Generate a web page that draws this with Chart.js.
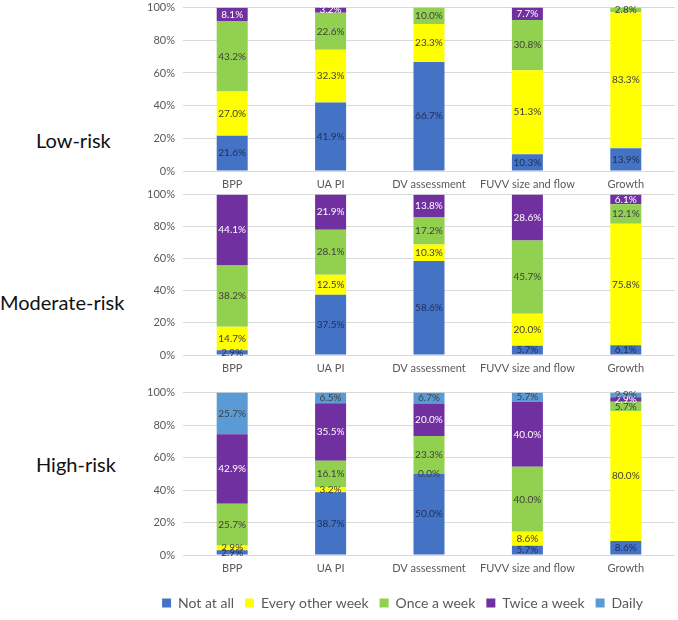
<!DOCTYPE html>
<html>
<head>
<meta charset="utf-8">
<script src="https://cdn.jsdelivr.net/npm/chart.js@4/dist/chart.umd.min.js"></script>
<style>
  body { margin: 0; width: 678px; height: 620px; background: #fff; position: relative; overflow: hidden; font-family: Lato, sans-serif; }
  canvas { position: absolute; }
  .row { position: absolute; font-size: 20px; color: #111; white-space: nowrap; }
</style>
</head>
<body>
<div class="row" style="left:36px; top:128px;">Low-risk</div>
<div class="row" style="left:0px; top:290px;">Moderate-risk</div>
<div class="row" style="left:36px; top:452px;">High-risk</div>
<canvas id="low" width="548" height="202" style="left:130px; top:-7px;"></canvas>
<canvas id="moderate" width="548" height="199" style="left:130px; top:180px;"></canvas>
<canvas id="high" width="548" height="242" style="left:130px; top:378px;"></canvas>
<script>
const categories = ['BPP', 'UA PI', 'DV assessment', 'FUVV size and flow', 'Growth'];
const series = ['Not at all', 'Every other week', 'Once a week', 'Twice a week', 'Daily'];
const colors = ['#4472C4', '#FFFF00', '#92D050', '#7030A0', '#5B9BD5'];
const labelColors = ['#1F2F55', '#404040', '#404040', '#FFFFFF', '#404040'];
const yTicks = [0, 20, 40, 60, 80, 100];

// Low-risk
const lowNotAtAll = [21.6, 41.9, 66.7, 10.3, 13.9];
const lowEveryOther = [27.0, 32.3, 23.3, 51.3, 83.3];
const lowOnce = [43.2, 22.6, 10.0, 30.8, 2.8];
const lowTwice = [8.1, 3.2, null, 7.7, null];
const lowDaily = [null, null, null, null, null];

// Moderate-risk
const modNotAtAll = [2.9, 37.5, 58.6, 5.7, 6.1];
const modEveryOther = [14.7, 12.5, 10.3, 20.0, 75.8];
const modOnce = [38.2, 28.1, 17.2, 45.7, 12.1];
const modTwice = [44.1, 21.9, 13.8, 28.6, 6.1];
const modDaily = [null, null, null, null, null];

// High-risk
const highNotAtAll = [2.9, 38.7, 50.0, 5.7, 8.6];
const highEveryOther = [2.9, 3.2, 0.0, 8.6, 80.0];
const highOnce = [25.7, 16.1, 23.3, 40.0, 5.7];
const highTwice = [42.9, 35.5, 20.0, 40.0, 2.9];
const highDaily = [25.7, 6.5, 6.7, 5.7, 2.9];

const barLabels = {
  id: 'barLabels',
  afterDatasetsDraw(chart) {
    const ctx = chart.ctx;
    ctx.save();
    ctx.font = '10px Lato';
    ctx.textAlign = 'center';
    ctx.textBaseline = 'middle';
    chart.data.datasets.forEach((ds, i) => {
      const meta = chart.getDatasetMeta(i);
      meta.data.forEach((bar, j) => {
        const v = ds.data[j];
        if (v === null || v === undefined) return;
        ctx.fillStyle = labelColors[i];
        ctx.fillText(v.toFixed(1) + '%', bar.x, (bar.y + bar.base) / 2);
      });
    });
    ctx.restore();
  }
};

function makePanel(id, rows, showLegend, xHeight) {
  new Chart(document.getElementById(id), {
    type: 'bar',
    data: {
      labels: categories,
      datasets: rows.map((d, i) => ({
        label: series[i],
        data: d,
        backgroundColor: colors[i],
        categoryPercentage: 1,
        barPercentage: 0.315
      }))
    },
    options: {
      responsive: false,
      animation: false,
      layout: { padding: { top: 0, right: 3, left: 0, bottom: 0 } },
      plugins: {
        tooltip: { enabled: false },
        legend: {
          display: showLegend,
          position: 'bottom',
          labels: {
            boxWidth: 9, boxHeight: 9, padding: 11,
            color: '#595959',
            font: { family: 'Lato', size: 14 }
          }
        }
      },
      scales: {
        x: {
          stacked: true,
          grid: { display: false, drawTicks: false, tickLength: 0 },
          border: { display: false },
          ticks: { color: '#595959', font: { family: 'Lato', size: 11 }, padding: 7, maxRotation: 0, autoSkip: false },
          afterFit: s => { s.height = xHeight; }
        },
        y: {
          stacked: true,
          min: 0, max: 100,
          afterBuildTicks: s => { s.ticks = yTicks.map(v => ({ value: v })); },
          grid: { color: '#D9D9D9', drawTicks: false },
          border: { display: false },
          ticks: { color: '#595959', font: { family: 'Lato', size: 11 }, padding: 8, callback: v => v + '%' },
          afterFit: s => { s.width = 53; }
        }
      }
    },
    plugins: [barLabels]
  });
}

makePanel('low', [lowNotAtAll, lowEveryOther, lowOnce, lowTwice, lowDaily], false, 24);
makePanel('moderate', [modNotAtAll, modEveryOther, modOnce, modTwice, modDaily], false, 24);
makePanel('high', [highNotAtAll, highEveryOther, highOnce, highTwice, highDaily], true, 30);
</script>
</body>
</html>
